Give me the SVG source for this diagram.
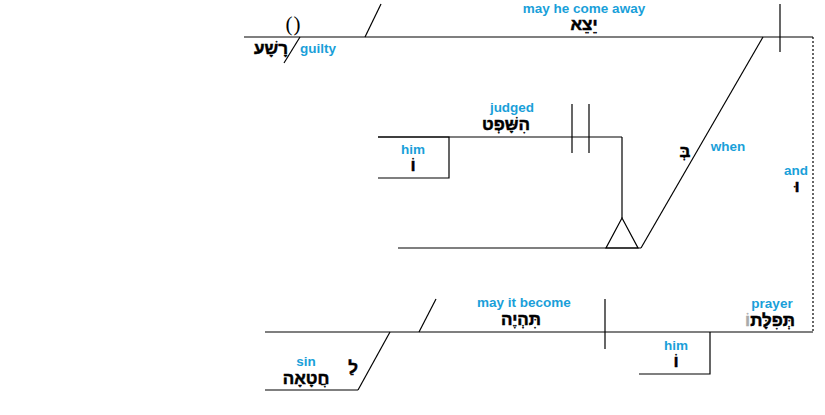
<svg xmlns="http://www.w3.org/2000/svg" width="825" height="415" viewBox="0 0 825 415">
<style>
.ln{stroke:#000;stroke-width:1.2;fill:none}
.dot{stroke:#000;stroke-width:1.2;fill:none;stroke-dasharray:2,2}
.en{font-family:"Liberation Sans",Arial,sans-serif;font-weight:bold;font-size:13.5px;fill:#1a9fd9;text-anchor:middle}
.he{font-family:"Liberation Sans","DejaVu Sans",sans-serif;font-weight:bold;font-size:17px;fill:#000;stroke:#000;stroke-width:0.5;text-anchor:middle}
</style>
<rect width="825" height="415" fill="#fff"/>
<g id="connectors">
<line class="dot" x1="813" y1="37" x2="813" y2="332"/>
<line class="ln" x1="763" y1="37" x2="641" y2="248"/>
<line class="ln" x1="622" y1="137" x2="622" y2="218"/>
<line class="ln" x1="390" y1="332" x2="358" y2="390"/>
</g>
<g id="main-clause">
<line class="ln" x1="244" y1="37" x2="813" y2="37"/>
<line class="ln" x1="780" y1="4" x2="780" y2="52"/>
<line class="ln" x1="365" y1="37" x2="381" y2="4"/>
<text x="293" y="31" style="font-family:'Liberation Serif',serif;font-size:21px" text-anchor="middle">(<tspan dx="1">)</tspan></text>
</g>
<g id="node-guilty">
<line class="ln" x1="284" y1="63" x2="300" y2="37"/>
<text class="he" x="271" y="54">רָשָׁע</text>
<text class="en" x="318" y="53">guilty</text>
</g>
<g id="node-come-away">
<text class="en" x="584" y="13">may he come away</text>
<text class="he" x="584" y="30">יֵצֵא</text>
</g>
<g id="node-when">
<text class="he" x="685" y="157">בְּ</text>
<text class="en" x="728" y="151">when</text>
</g>
<g id="node-and">
<text class="en" x="796" y="175">and</text>
<text class="he" x="797" y="192">וּ</text>
</g>
<g id="node-judged">
<line class="ln" x1="378" y1="137" x2="622" y2="137"/>
<line class="ln" x1="572" y1="104" x2="572" y2="153"/>
<line class="ln" x1="589" y1="104" x2="589" y2="153"/>
<text class="en" x="512" y="112">judged</text>
<text class="he" x="506" y="130">הִשָּׁפְט</text>
</g>
<g id="node-him1">
<polyline class="ln" points="378,137 449,137 449,178 378,178"/>
<text class="en" x="413" y="154">him</text>
<text class="he" x="413" y="171">וֹ</text>
</g>
<g id="node-clause-base">
<line class="ln" x1="398" y1="248" x2="641" y2="248"/>
<polygon class="ln" points="622,218 606,248 638,248"/>
</g>
<g id="second-clause">
<line class="ln" x1="265" y1="332" x2="813" y2="332"/>
<line class="ln" x1="419" y1="332" x2="436" y2="299"/>
<line class="ln" x1="605" y1="299" x2="605" y2="349"/>
</g>
<g id="node-become">
<text class="en" x="524" y="307">may it become</text>
<text class="he" x="521" y="325">תִּהְיֶה</text>
</g>
<g id="node-prayer">
<text class="en" x="772" y="308">prayer</text>
<text class="he" x="770" y="326">תְּפִלָּת<tspan fill="#aaa" stroke="#aaa">וֹ</tspan></text>
</g>
<g id="node-him2">
<polyline class="ln" points="710,332 710,374 639,374"/>
<text class="en" x="676" y="350">him</text>
<text class="he" x="676" y="367">וֹ</text>
</g>
<g id="node-sin">
<line class="ln" x1="265" y1="390" x2="358" y2="390"/>
<text class="en" x="306" y="366">sin</text>
<text class="he" x="306" y="384">חֲטָאָה</text>
<text class="he" x="353" y="373">לַ</text>
</g>
</svg>
